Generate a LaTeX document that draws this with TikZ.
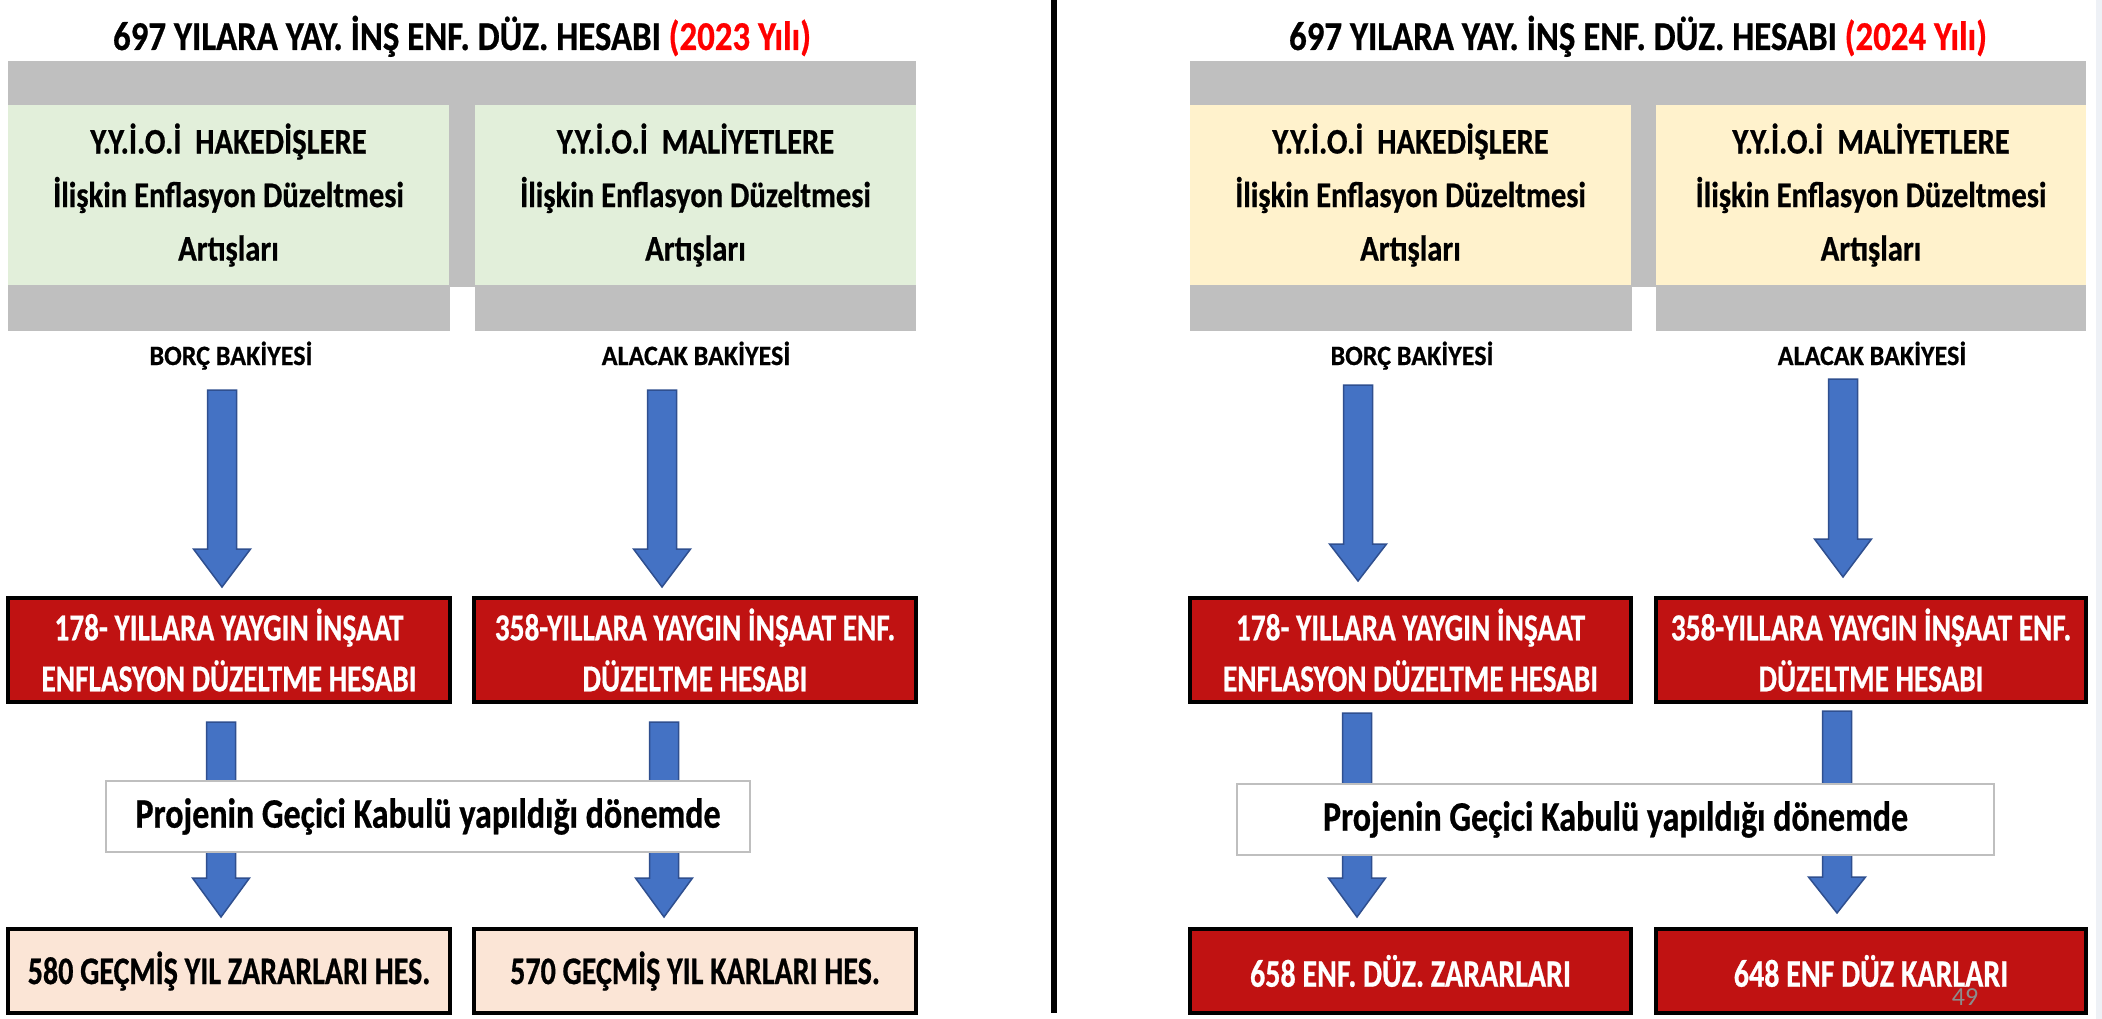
\documentclass[tikz,border=0pt]{standalone}
\usepackage{fontspec}
\setmainfont{Carlito}[FakeStretch=0.85]
\newfontfamily\fA{Carlito}[FakeStretch=0.85,BoldFeatures={FakeBold=0.6}]
\newfontfamily\fB{Carlito}[FakeStretch=0.77,BoldFeatures={FakeBold=0.6}]
\newfontfamily\fC{Carlito}[FakeStretch=0.81,BoldFeatures={FakeBold=0.6}]
\newfontfamily\fD{Carlito}[FakeStretch=0.93,BoldFeatures={FakeBold=0.6}]
\newfontfamily\pagenumfont{Carlito}
\definecolor{grayc}{HTML}{BFBFBF}
\definecolor{greenc}{HTML}{E2EFDA}
\definecolor{yellowc}{HTML}{FFF2CC}
\definecolor{redc}{RGB}{192,18,18}
\definecolor{peachc}{HTML}{FBE5D6}
\definecolor{arrowc}{HTML}{4472C4}
\definecolor{arrowedge}{HTML}{2F4F8F}
\definecolor{titlered}{HTML}{FF0000}
\definecolor{pnum}{HTML}{8C8C8C}
\definecolor{edgec}{HTML}{EEF1F6}
\newcommand\fsz[2]{\fontsize{#1}{#2}\selectfont}
% block arrow: x, top, head base, tip, half shaft, half head
\newcommand\blkarr[6]{%
  \filldraw[arrowst] (#1-#5,#2) -- (#1+#5,#2) -- (#1+#5,#3) -- (#1+#6,#3) -- (#1,#4) -- (#1-#6,#3) -- (#1-#5,#3) -- cycle;}
\begin{document}
\begin{tikzpicture}[x=1pt,y=-1pt,
  arrowst/.style={fill=arrowc,draw=arrowedge,line width=1.5pt,line join=miter},
  graybar/.style={fill=grayc,draw=none},
  topbox/.style={draw=none,inner sep=0pt,align=center,font=\fA\bfseries\fsz{36}{53.5},minimum height=180},
  redbox/.style={fill=redc,draw=black,line width=4pt,inner sep=0pt,align=center,text=white,font=\fB\bfseries\fsz{38}{51},minimum height=104},
  peachbox/.style={fill=peachc,draw=black,line width=4pt,inner sep=0pt,align=center,text=black,font=\fB\bfseries\fsz{39}{47},minimum height=84},
  redbottom/.style={redbox,font=\fB\bfseries\fsz{39}{47},minimum height=84},
  whitebox/.style={fill=white,draw=grayc,line width=1.5pt,inner sep=0pt,font=\fC\bfseries\fsz{42}{50}},
  titletxt/.style={inner sep=0pt,anchor=base,font=\fA\bfseries\fsz{41}{49}},
  lbl/.style={inner sep=0pt,anchor=base,font=\fD\bfseries\fsz{28}{32}}]
\useasboundingbox (0,0) rectangle (2102,1019);
\fill[white] (0,0) rectangle (2102,1019);
\fill[edgec] (2096,0) rectangle (2102,1019);
% divider
\draw[line width=6pt] (1054,0) -- (1054,1013);

% ================= LEFT PANEL (2023) =================
\node[titletxt] (t1) at (462,50) {697 YILARA YAY. İNŞ ENF. DÜZ. HESABI {\color{titlered}(2023 Yılı)}};
\fill[graybar] (8,61) rectangle (916,287);
\fill[graybar] (8,287) rectangle (450,331);
\fill[graybar] (475,287) rectangle (916,331);
\node[topbox,fill=greenc,minimum width=441] (g1) at (228.5,195) {Y.Y.İ.O.İ\ \ HAKEDİŞLERE\\İlişkin Enflasyon Düzeltmesi\\Artışları};
\node[topbox,fill=greenc,minimum width=441] (g2) at (695.5,195) {Y.Y.İ.O.İ\ \ MALİYETLERE\\İlişkin Enflasyon Düzeltmesi\\Artışları};
\node[lbl] (b1) at (231,365) {BORÇ BAKİYESİ};
\node[lbl] (a1) at (696,365) {ALACAK BAKİYESİ};
\blkarr{222}{390}{549}{587}{14.5}{28.5}
\blkarr{662}{390}{549}{587}{14.5}{28.5}
\node[redbox,minimum width=442] (r1) at (229,650) {178- YILLARA YAYGIN İNŞAAT\\ENFLASYON DÜZELTME HESABI};
\node[redbox,minimum width=442] (r2) at (695,650) {358-YILLARA YAYGIN İNŞAAT ENF.\\DÜZELTME HESABI};
\blkarr{221}{722}{878}{917}{14.5}{28.5}
\blkarr{664}{722}{878}{917}{14.5}{28.5}
\node[whitebox,minimum width=644,minimum height=71] (w1) at (428,816.5) {Projenin Geçici Kabulü yapıldığı dönemde};
\node[peachbox,minimum width=442] (p1) at (229,971) {580 GEÇMİŞ YIL ZARARLARI HES.};
\node[peachbox,minimum width=442] (p2) at (695,971) {570 GEÇMİŞ YIL KARLARI HES.};

% ================= RIGHT PANEL (2024) =================
\node[titletxt] (t2) at (1638,50) {697 YILARA YAY. İNŞ ENF. DÜZ. HESABI {\color{titlered}(2024 Yılı)}};
\fill[graybar] (1190,61) rectangle (2086,287);
\fill[graybar] (1190,287) rectangle (1632,331);
\fill[graybar] (1656,287) rectangle (2086,331);
\node[topbox,fill=yellowc,minimum width=441] (y1) at (1410.5,195) {Y.Y.İ.O.İ\ \ HAKEDİŞLERE\\İlişkin Enflasyon Düzeltmesi\\Artışları};
\node[topbox,fill=yellowc,minimum width=430] (y2) at (1871,195) {Y.Y.İ.O.İ\ \ MALİYETLERE\\İlişkin Enflasyon Düzeltmesi\\Artışları};
\node[lbl] (b2) at (1412,365) {BORÇ BAKİYESİ};
\node[lbl] (a2) at (1872,365) {ALACAK BAKİYESİ};
\blkarr{1358}{385}{544}{581}{14.5}{28.5}
\blkarr{1843}{379}{539}{577}{14.5}{28.5}
\node[redbox,minimum width=441] (r3) at (1410.5,650) {178- YILLARA YAYGIN İNŞAAT\\ENFLASYON DÜZELTME HESABI};
\node[redbox,minimum width=430] (r4) at (1871,650) {358-YILLARA YAYGIN İNŞAAT ENF.\\DÜZELTME HESABI};
\blkarr{1357}{713}{878}{917}{14.5}{28.5}
\blkarr{1837}{711}{877}{913}{14.5}{28.5}
\node[whitebox,minimum width=757,minimum height=71] (w2) at (1615.5,819.5) {Projenin Geçici Kabulü yapıldığı dönemde};
\node[redbottom,minimum width=441] (q1) at (1410.5,971) {658 ENF. DÜZ. ZARARLARI};
\node[redbottom,minimum width=430] (q2) at (1871,971) {648 ENF DÜZ KARLARI};
\node[inner sep=0pt,text=pnum,font=\pagenumfont\fsz{26}{30}] (pg) at (1965,997) {49};
\end{tikzpicture}
\end{document}
